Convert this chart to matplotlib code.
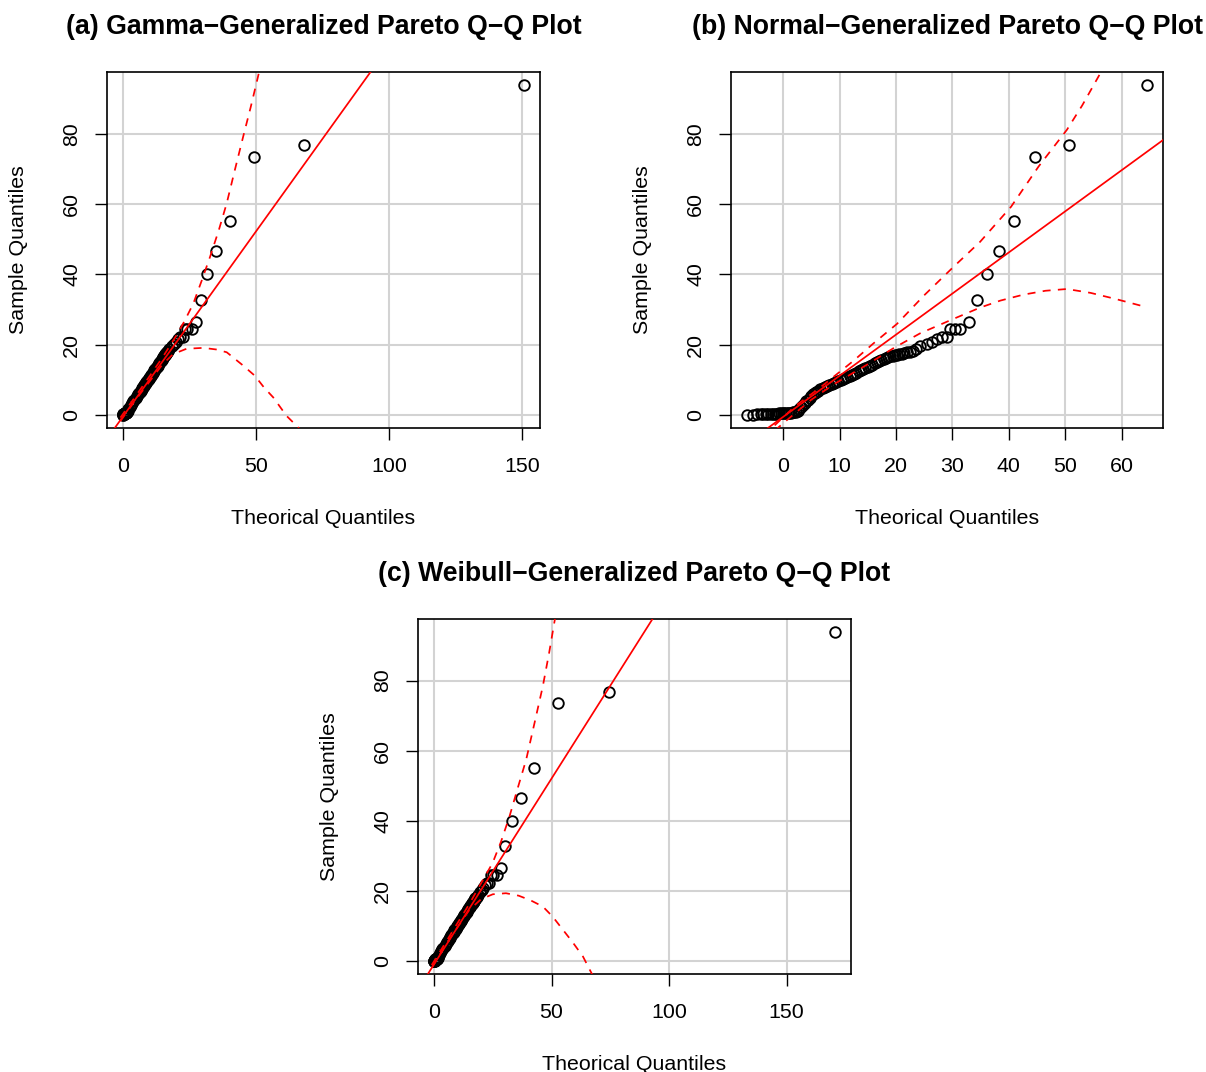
import matplotlib
matplotlib.use("Agg")
import matplotlib.pyplot as plt

plt.rcParams["font.family"] = ["Liberation Sans", "DejaVu Sans"]

# sorted sample values (shared by all three panels)
sample_q = [0.0, 0.0, 0.1, 0.1, 0.1, 0.2, 0.2, 0.2, 0.3, 0.3, 0.3, 0.4, 0.4, 0.4, 0.5, 0.5, 0.5, 0.6, 0.6, 0.7, 0.7, 0.8,
            1.1, 1.7, 2.3, 2.8, 3.3, 3.8, 4.3, 4.8, 5.3, 5.8, 6.2, 6.5, 6.9, 7.3, 7.6, 7.9, 8.2, 8.4, 8.7, 9.0,
            9.2, 9.6, 9.9, 10.2, 10.5, 10.8, 11.1, 11.4, 11.7, 12.0, 12.4, 12.7, 13.0, 13.4, 13.7, 14.0, 14.3, 14.7,
            15.0, 15.3, 15.7, 16.0, 16.2, 16.4, 16.6, 16.8, 17.0, 17.1, 17.2, 17.4, 17.6, 17.8, 18.0, 18.3, 18.8,
            19.7, 20.2, 20.7, 21.6, 22.1, 22.1, 24.5, 24.5, 24.5, 26.4, 32.8, 40.0, 46.6, 55.1, 73.5, 76.7, 93.8]

theo_a = [0.0, 0.05, 0.1, 0.15, 0.2, 0.25, 0.3, 0.35, 0.4, 0.45, 0.5, 0.6, 0.7, 0.8, 0.9, 1.0, 1.1, 1.2, 1.3, 1.4, 1.5, 1.6,
          1.8, 2.0, 2.5, 2.9, 3.4, 3.8, 4.3, 4.7, 5.2, 5.6, 6.0, 6.3, 6.6, 7.0, 7.2, 7.5, 7.8, 8.0, 8.2, 8.5,
          8.7, 9.0, 9.3, 9.6, 9.8, 10.1, 10.4, 10.7, 10.9, 11.2, 11.6, 11.8, 12.1, 12.5, 12.7, 13.0, 13.3, 13.6,
          13.9, 14.2, 14.5, 14.8, 15.0, 15.2, 15.3, 15.5, 15.7, 15.8, 15.9, 16.1, 16.2, 16.4, 16.6, 16.9, 17.3,
          18.6, 19.3, 20.0, 20.8, 21.5, 22.4, 23.3, 24.2, 25.8, 27.5, 29.3, 31.6, 35.0, 40.2, 49.2, 68.0, 150.8]

theo_b = [-6.4, -5.3, -4.6, -4.0, -3.5, -3.0, -2.6, -2.2, -1.8, -1.4, -1.0, -0.7, -0.4, -0.1, 0.2, 0.5, 0.8, 1.1, 1.4, 1.7, 2.0, 2.3,
          2.6, 2.9, 3.2, 3.5, 3.8, 4.1, 4.4, 4.7, 5.0, 5.3, 5.6, 5.9, 6.2, 6.6, 7.0, 7.4, 7.8, 8.2, 8.6, 9.0,
          9.4, 9.8, 10.2, 10.6, 11.0, 11.4, 11.8, 12.2, 12.6, 13.0, 13.4, 13.8, 14.2, 14.6, 15.0, 15.4, 15.8, 16.2,
          16.6, 17.0, 17.4, 17.8, 18.2, 18.6, 19.0, 19.4, 19.8, 20.2, 20.6, 21.0, 21.5, 22.0, 22.5, 23.0, 23.6,
          24.3, 25.5, 26.4, 27.3, 28.1, 29.1, 29.6, 30.5, 31.4, 32.9, 34.3, 36.1, 38.3, 41.0, 44.7, 50.6, 64.5]

theo_c = [0.0, 0.05, 0.1, 0.15, 0.2, 0.25, 0.3, 0.35, 0.4, 0.45, 0.5, 0.6, 0.7, 0.8, 0.9, 1.0, 1.1, 1.2, 1.3, 1.35, 1.4, 1.5,
          1.6, 2.0, 2.5, 3.0, 3.5, 4.0, 4.5, 5.0, 5.4, 5.9, 6.3, 6.6, 7.0, 7.4, 7.7, 8.0, 8.3, 8.5, 8.7, 9.0,
          9.2, 9.6, 9.9, 10.2, 10.5, 10.8, 11.1, 11.4, 11.6, 11.9, 12.3, 12.6, 12.9, 13.3, 13.6, 13.9, 14.2, 14.6,
          14.9, 15.1, 15.5, 15.8, 16.0, 16.2, 16.4, 16.6, 16.8, 16.9, 17.0, 17.2, 17.4, 17.6, 17.8, 18.1, 18.5,
          19.5, 20.2, 20.9, 21.7, 22.5, 23.3, 24.2, 25.3, 26.6, 28.5, 30.3, 33.2, 37.0, 42.7, 52.7, 74.5, 170.6]

# reference lines (intercept, slope)
line_a = (-0.47, 1.053)
line_b = (-0.6, 1.17)
line_c = (-0.98, 1.06)

# confidence envelopes
up_a_x = [-1, 5, 10, 15, 20, 23, 26.4, 29.5, 32.7, 36, 39, 42, 45.2, 48, 50.6, 55]
up_a_y = [-0.8, 5.6, 11, 16.5, 22.5, 26.5, 31.6, 38, 44.9, 52.5, 60.2, 69.5, 79.2, 87.5, 95.7, 110]
lo_a_x = [-1, 5, 10, 15, 18.9, 23.9, 30.2, 35, 39, 45.2, 49.6, 53, 56.5, 61.5, 65.9, 70]
lo_a_y = [-1.8, 4.5, 9.5, 14.5, 17.3, 18.8, 19.05, 18.6, 17.8, 14, 11.1, 7.8, 4.95, -0.3, -3.6, -8]

up_b_x = [-1.5, 2, 6.6, 12.5, 16, 20.2, 25, 30.2, 34.9, 40.4, 45.3, 50.3, 53, 56.3, 60]
up_b_y = [-3.0, 2.3, 7.8, 15.4, 20.3, 25.9, 34, 42.1, 49.2, 59.2, 70.7, 81.1, 88, 97.4, 107]
lo_b_x = [-1.5, 2, 5, 8.9, 14.8, 19.6, 24.3, 30.2, 34.9, 38.5, 42.6, 46.5, 50.3, 54.5, 58.6, 64.5]
lo_b_y = [-4.5, 0.3, 4.3, 8.6, 14.2, 19.0, 23.2, 27.3, 30.5, 32.5, 34.2, 35.3, 35.8, 34.7, 33.1, 30.6]

up_c_x = [-1, 5, 10, 15, 19.2, 24.9, 28.5, 32.1, 35.7, 39.2, 42.8, 46.3, 49, 51.3, 54]
up_c_y = [-1.2, 5.3, 10.8, 16.2, 21.2, 27.9, 34, 41.2, 49.5, 57.4, 68, 78.4, 88, 97, 106]
lo_c_x = [-1, 5, 10, 15, 20, 25, 30.6, 36, 41, 46.3, 50.5, 54.8, 59, 63.4, 67, 72]
lo_c_y = [-2.0, 4.6, 9.6, 14.5, 17.6, 19, 19.3, 18.6, 17.3, 15.5, 12.6, 8.9, 5.3, 1.2, -3.5, -9]

titles = ["(a) Gamma\u2212Generalized Pareto Q\u2212Q Plot",
          "(b) Normal\u2212Generalized Pareto Q\u2212Q Plot",
          "(c) Weibull\u2212Generalized Pareto Q\u2212Q Plot"]
xticks_a = [0, 50, 100, 150]
xticks_b = [0, 10, 20, 30, 40, 50, 60]
xticks_c = [0, 50, 100, 150]
yticks = [0, 20, 40, 60, 80]

W, H = 1206, 1072
fig = plt.figure(figsize=(W / 100, H / 100), dpi=100)


def px_box(left, top, right, bottom):
    return [left / W, 1 - bottom / H, (right - left) / W, (bottom - top) / H]


def draw_panel(box, theo, line, up_x, up_y, lo_x, lo_y, xticks, title):
    left, top, right, bottom = box
    ax = fig.add_axes(px_box(left, top, right, bottom))

    ax.plot(theo, sample_q, "o", ms=7.6, mfc="none", mec="black", mew=1.35, zorder=3)

    b, m = line
    ax.axline((0, b), slope=m, color="red", lw=1.25, zorder=4)
    ax.plot(up_x, up_y, color="red", lw=1.25, dashes=(4.6, 4.2), zorder=4)
    ax.plot(lo_x, lo_y, color="red", lw=1.25, dashes=(4.6, 4.2), zorder=4)

    xmin, xmax = min(theo), max(theo)
    ymin, ymax = min(sample_q), max(sample_q)
    ax.set_xlim(xmin - 0.04 * (xmax - xmin), xmax + 0.04 * (xmax - xmin))
    ax.set_ylim(ymin - 0.04 * (ymax - ymin), ymax + 0.04 * (ymax - ymin))

    ax.set_xticks(xticks)
    ax.set_yticks(yticks)
    ax.set_yticklabels([str(t) for t in yticks], rotation=90, va="center")
    ax.grid(True, color="#D3D3D3", lw=1.5)
    ax.set_axisbelow(True)
    ax.tick_params(direction="out", length=8.6, width=1.0, labelsize=15.4, colors="black")
    ax.tick_params(axis="x", pad=12.5)
    ax.tick_params(axis="y", pad=10)
    for s in ax.spines.values():
        s.set_linewidth(1.2)
        s.set_color("black")

    cx = (left + right) / 2
    cy = (top + bottom) / 2
    fig.text(cx / W, 1 - (top - 38) / H, title, ha="center", va="baseline",
             fontsize=19.2, fontweight="bold")
    fig.text(cx / W, 1 - (bottom + 96) / H, "Theorical Quantiles", ha="center", va="baseline",
             fontsize=15.4)
    fig.text((left - 88) / W, 1 - cy / H, "Sample Quantiles", ha="center", va="center",
             rotation=90, fontsize=15.4)
    return ax


draw_panel((107, 72, 540, 428), theo_a, line_a, up_a_x, up_a_y, lo_a_x, lo_a_y, xticks_a, titles[0])
draw_panel((731, 72, 1163, 428), theo_b, line_b, up_b_x, up_b_y, lo_b_x, lo_b_y, xticks_b, titles[1])
draw_panel((418, 619, 851, 974), theo_c, line_c, up_c_x, up_c_y, lo_c_x, lo_c_y, xticks_c, titles[2])

fig.savefig("out.png", dpi=100)
